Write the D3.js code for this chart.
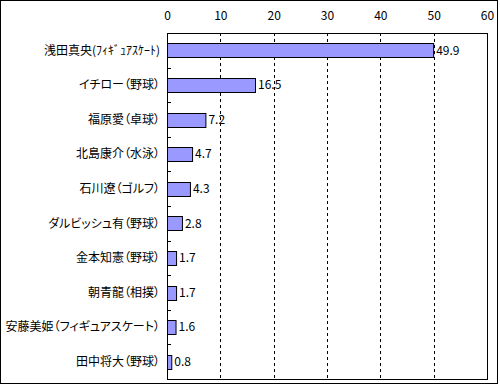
<!DOCTYPE html>
<html>
<head>
	<meta charset="utf-8">
	<script src="https://cdnjs.cloudflare.com/ajax/libs/d3/7.8.5/d3.min.js"></script>
	<style type="text/css">
		body { margin: 0; background: #fff; }
		text {
			font-family: "Noto Sans CJK JP", sans-serif;
			font-size: 12px;
			fill: #000;
		}
		.cat { font-feature-settings: "palt"; }
		.cat.hw { font-feature-settings: normal; }
	</style>
</head>
<body>
	<script type="text/javascript">

		let names = ['浅田真央(ﾌｨｷﾞｭｱｽｹｰﾄ)', 'イチロー（野球）', '福原愛（卓球）', '北島康介（水泳）',
			'石川遼（ゴルフ）', 'ダルビッシュ有（野球）', '金本知憲（野球）', '朝青龍（相撲）',
			'安藤美姫（フィギュアスケート）', '田中将大（野球）'];
		let values = [49.9, 16.5, 7.2, 4.7, 4.3, 2.8, 1.7, 1.7, 1.6, 0.8];
		let xTicks = [0, 10, 20, 30, 40, 50, 60];

		let data = names.map((n, i) => ({name: n, value: values[i]}));

		let svg = d3.select('body').append('svg')
			.attr('width', 500)
			.attr('height', 385);

		// chart frame
		svg.append('rect')
			.attr('x', 0.5).attr('y', 0.5)
			.attr('width', 497).attr('height', 383)
			.attr('fill', 'none').attr('stroke', '#000');

		let plotL = 167, plotR = 487, plotT = 33, plotB = 379;

		let xScale = d3.scaleLinear().domain([0, 60]).range([plotL, plotR]);
		let yScale = d3.scaleBand().domain(names).range([plotT, plotB])
			.paddingInner(0.6).paddingOuter(0.3);

		// dashed grid lines
		svg.selectAll('line.grid').data(xTicks.slice(1, -1))
			.enter().append('line')
			.attr('class', 'grid')
			.attr('x1', d => Math.round(xScale(d)) + 0.5)
			.attr('x2', d => Math.round(xScale(d)) + 0.5)
			.attr('y1', plotT).attr('y2', plotB)
			.attr('stroke', '#000')
			.attr('stroke-dasharray', '3,3');

		// top axis labels
		let xAxis = d3.axisTop(xScale).tickValues(xTicks).tickSize(0).tickPadding(13);
		let gx = svg.append('g').attr('transform', `translate(0,${plotT})`).call(xAxis);
		gx.select('.domain').remove();
		gx.attr('font-family', null).attr('font-size', null);

		// bars
		svg.selectAll('rect.bar').data(data)
			.enter().append('rect')
			.attr('class', 'bar')
			.attr('x', plotL + 0.5)
			.attr('y', d => Math.round(yScale(d.name)) + 0.5)
			.attr('width', d => xScale(d.value) - plotL)
			.attr('height', Math.round(yScale.bandwidth()))
			.attr('fill', '#9999ff')
			.attr('stroke', '#000');

		// value labels
		svg.selectAll('text.val').data(data)
			.enter().append('text')
			.attr('class', 'val')
			.attr('x', d => xScale(d.value) + 3)
			.attr('y', d => yScale(d.name) + yScale.bandwidth() / 2)
			.attr('dy', '0.35em')
			.text(d => d.value);

		// category labels (half-width kana keep their own width)
		svg.selectAll('text.cat').data(data)
			.enter().append('text')
			.attr('class', d => /[\uff61-\uff9f]/.test(d.name) ? 'cat hw' : 'cat')
			.attr('x', 160)
			.attr('y', d => yScale(d.name) + yScale.bandwidth() / 2)
			.attr('dy', '0.35em')
			.attr('text-anchor', 'end')
			.text(d => d.name);

		// inner ticks at category boundaries
		let step = yScale.step();
		svg.selectAll('line.tick').data(names.slice(1))
			.enter().append('line')
			.attr('class', 'tick')
			.attr('x1', plotL).attr('x2', plotL + 4)
			.attr('y1', d => Math.round(yScale(d) - step * 0.3) + 0.5)
			.attr('y2', d => Math.round(yScale(d) - step * 0.3) + 0.5)
			.attr('stroke', '#000');

		// plot frame
		svg.append('rect')
			.attr('x', plotL + 0.5).attr('y', plotT + 0.5)
			.attr('width', plotR - plotL).attr('height', plotB - plotT)
			.attr('fill', 'none').attr('stroke', '#000');
	</script>
</body>
</html>
